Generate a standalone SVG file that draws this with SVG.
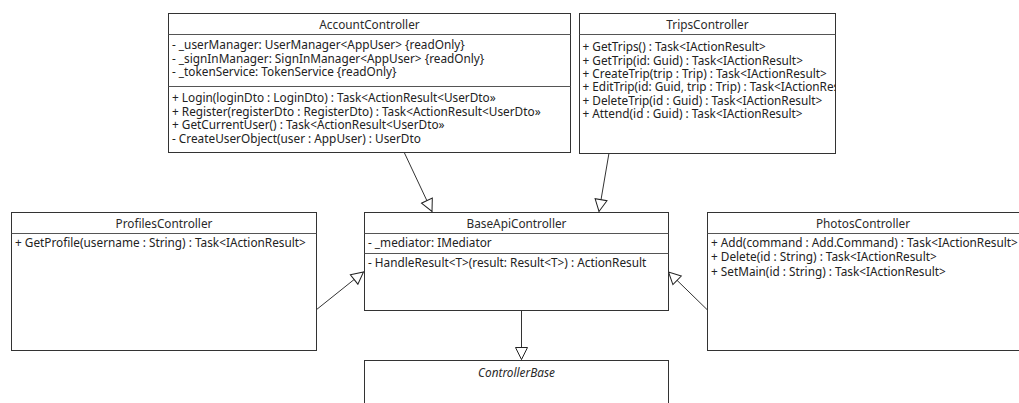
<svg xmlns="http://www.w3.org/2000/svg" width="1019" height="403" viewBox="0 0 1019 403">
  <style>
    .box { fill: #ffffff; stroke: #333333; stroke-width: 1; }
    .sep { stroke: #555555; stroke-width: 1; }
    .title { font-family: "Noto Sans", "Open Sans", sans-serif; font-size: 11.8px; fill: #2a2a2a; text-anchor: middle; }
    .abstract { font-style: italic; }
    .row { font-family: "Noto Sans", "Open Sans", sans-serif; font-size: 11.8px; fill: #222222; }
    .edge { stroke: #333333; stroke-width: 1; fill: none; marker-end: url(#gen); }
  </style>
  <defs>
    <!-- hollow triangle for generalization -->
    <marker id="gen" markerUnits="userSpaceOnUse" markerWidth="16" markerHeight="16" refX="13" refY="7" orient="auto" viewBox="0 0 16 14">
      <path d="M1,1 L13,7 L1,13 Z" fill="#ffffff" stroke="#222222" stroke-width="1"/>
    </marker>
  </defs>
  <rect width="1019" height="403" fill="#ffffff"/>

  <g id="connectors">
    <line class="edge" x1="404" y1="152" x2="432" y2="211.5"/>
    <line class="edge" x1="609" y1="153" x2="599" y2="211.5"/>
    <line class="edge" x1="316" y1="310" x2="363.5" y2="272"/>
    <line class="edge" x1="707.5" y1="310" x2="668.5" y2="272"/>
    <line class="edge" x1="521.5" y1="310" x2="521.5" y2="359.5"/>
  </g>

  <g id="AccountController">
    <rect class="box" x="168.5" y="13.5" width="402" height="139"/>
    <line class="sep" x1="168.5" y1="34.5" x2="570.5" y2="34.5"/>
    <line class="sep" x1="168.5" y1="86.5" x2="570.5" y2="86.5"/>
    <text class="title" x="369.5" y="29">AccountController</text>
    <text class="row" x="172" y="49">- _userManager: UserManager&lt;AppUser&gt; {readOnly}</text>
    <text class="row" x="172" y="62.5">- _signInManager: SignInManager&lt;AppUser&gt; {readOnly}</text>
    <text class="row" x="172" y="76">- _tokenService: TokenService {readOnly}</text>
    <text class="row" x="172" y="102">+ Login(loginDto : LoginDto) : Task&lt;ActionResult&lt;UserDto»</text>
    <text class="row" x="172" y="115.5">+ Register(registerDto : RegisterDto) : Task&lt;ActionResult&lt;UserDto»</text>
    <text class="row" x="172" y="129">+ GetCurrentUser() : Task&lt;ActionResult&lt;UserDto»</text>
    <text class="row" x="172" y="142.5">- CreateUserObject(user : AppUser) : UserDto</text>
  </g>

  <g id="TripsController">
    <rect class="box" x="579.5" y="13.5" width="256" height="140"/>
    <line class="sep" x1="579.5" y1="34.5" x2="835.5" y2="34.5"/>
    <text class="title" x="707.5" y="29">TripsController</text>
    <svg x="579.5" y="13.5" width="256" height="140" overflow="hidden">
      <text class="row" x="3" y="37.5">+ GetTrips() : Task&lt;IActionResult&gt;</text>
      <text class="row" x="3" y="51">+ GetTrip(id: Guid) : Task&lt;IActionResult&gt;</text>
      <text class="row" x="3" y="64.5">+ CreateTrip(trip : Trip) : Task&lt;IActionResult&gt;</text>
      <text class="row" x="3" y="77.5">+ EditTrip(id: Guid, trip : Trip) : Task&lt;IActionResult&gt;</text>
      <text class="row" x="3" y="91">+ DeleteTrip(id : Guid) : Task&lt;IActionResult&gt;</text>
      <text class="row" x="3" y="104.5">+ Attend(id : Guid) : Task&lt;IActionResult&gt;</text>
    </svg>
  </g>

  <g id="ProfilesController">
    <rect class="box" x="11.5" y="212.5" width="305" height="138"/>
    <line class="sep" x1="11.5" y1="233.5" x2="316.5" y2="233.5"/>
    <text class="title" x="164" y="228">ProfilesController</text>
    <text class="row" x="15" y="247">+ GetProfile(username : String) : Task&lt;IActionResult&gt;</text>
  </g>

  <g id="BaseApiController">
    <rect class="box" x="364.5" y="212.5" width="304" height="98"/>
    <line class="sep" x1="364.5" y1="233.5" x2="668.5" y2="233.5"/>
    <line class="sep" x1="364.5" y1="253.5" x2="668.5" y2="253.5"/>
    <text class="title" x="516.5" y="228">BaseApiController</text>
    <text class="row" x="368" y="247">- _mediator: IMediator</text>
    <text class="row" x="368" y="267">- HandleResult&lt;T&gt;(result: Result&lt;T&gt;) : ActionResult</text>
  </g>

  <g id="PhotosController">
    <rect class="box" x="707.5" y="212.5" width="330" height="138"/>
    <line class="sep" x1="707.5" y1="233.5" x2="1037.5" y2="233.5"/>
    <text class="title" x="863" y="228">PhotosController</text>
    <text class="row" x="711" y="247">+ Add(command : Add.Command) : Task&lt;IActionResult&gt;</text>
    <text class="row" x="711" y="261">+ Delete(id : String) : Task&lt;IActionResult&gt;</text>
    <text class="row" x="711" y="275.5">+ SetMain(id : String) : Task&lt;IActionResult&gt;</text>
  </g>

  <g id="ControllerBase">
    <rect class="box" x="364.5" y="360.5" width="304" height="60"/>
    <text class="title abstract" x="516.5" y="377">ControllerBase</text>
  </g>
</svg>
